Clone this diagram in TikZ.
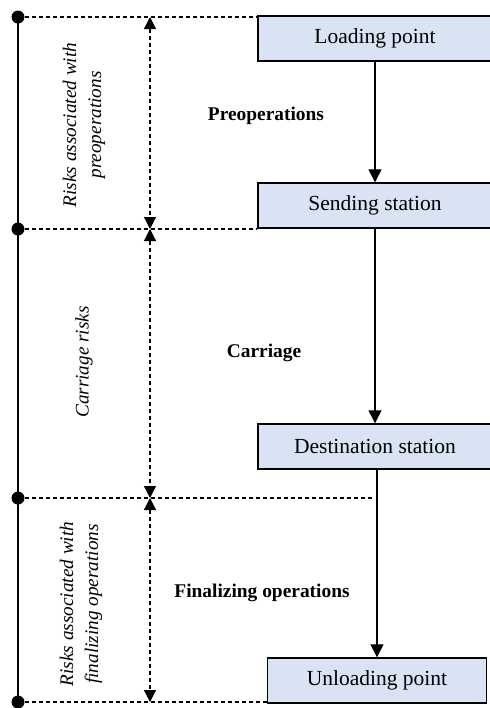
\documentclass[tikz,border=0pt]{standalone}
\usepackage{fontspec}
\setmainfont{Liberation Serif}
\usetikzlibrary{arrows.meta, positioning}
\definecolor{stagefill}{HTML}{DAE3F3}

\begin{document}
\begin{tikzpicture}[x=0.5pt, y=-0.5pt, >={Triangle[length=6.5pt, width=6.5pt]}]
      \useasboundingbox (0,0) rectangle (490,708);

      % Define the style for the stage boxes
      \tikzstyle{stagebox}=[draw, line width=0.7pt, fill=stagefill, minimum width=117pt, minimum height=22.5pt, inner sep=0pt, font=\fontsize{10.75}{13}\selectfont]

      % Stage boxes
      \node[stagebox] (load) at (375,38.5) {Loading point};
      \node[stagebox] (send) at (375,205.5) {Sending station};
      \node[stagebox] (dest) at (375,446.5) {Destination station};
      \node[stagebox, minimum width=109.5pt] (unload) at (377,680.5) {Unloading point};

      % Define the style for the dots on the time line
      \tikzstyle{dot}=[circle, fill=black, inner sep=0pt, minimum size=6.5pt]

      % Dots
      \node[dot] (d1) at (18,17) {};
      \node[dot] (d2) at (18,229) {};
      \node[dot] (d3) at (18,498) {};
      \node[dot] (d4) at (18,702) {};

      % Ends of the dashed lines and of the span arrows
      \coordinate (m3) at (375,498);
      \coordinate (a1) at (150,17);
      \coordinate (a2) at (150,229);
      \coordinate (a3) at (150,498);
      \coordinate (a4) at (150,702);

      % Define the style for the edges
      \tikzstyle{flow}=[draw, line width=0.65pt, ->]
      \tikzstyle{guide}=[draw, line width=0.6pt, dash pattern=on 2pt off 1.5pt]
      \tikzstyle{span}=[guide, <->, >={Triangle[length=6pt, width=6pt]}]

      % Time line
      \draw[line width=0.65pt] (d1.center) -- (d4.center);

      % Dashed lines
      \draw[guide] (d1.center) -- (load.west |- d1);
      \draw[guide] (d2.center) -- (send.west |- d2);
      \draw[guide] (d3.center) -- (m3);
      \draw[guide] (d4.center) -- (unload.west |- d4);

      % Span arrows
      \draw[span] (a1) -- (a2);
      \draw[span] (a2) -- (a3);
      \draw[span] (a3) -- (a4);

      % Flow arrows
      \draw[flow] (load) -- (send);
      \draw[flow] (send) -- (dest);
      \draw[flow] (dest.south -| unload) -- (unload);

      % Stage labels
      \tikzstyle{every node}=[font=\bfseries\fontsize{9.7}{12}\selectfont]
      \node (pre) at (266,116) {Preoperations};
      \node (car) at (264,353) {Carriage};
      \node (fin) at (262,593) {Finalizing operations};

      % Risk labels
      \tikzstyle{every node}=[rotate=90, align=center, font=\itshape\fontsize{9.6}{12.5}\selectfont]
      \node (rpre) at (84,125) {Risks associated with\\preoperations};
      \node (rcar) at (84,362) {Carriage risks};
      \node (rfin) at (81,604) {Risks associated with\\finalizing operations};

\end{tikzpicture}
\end{document}
